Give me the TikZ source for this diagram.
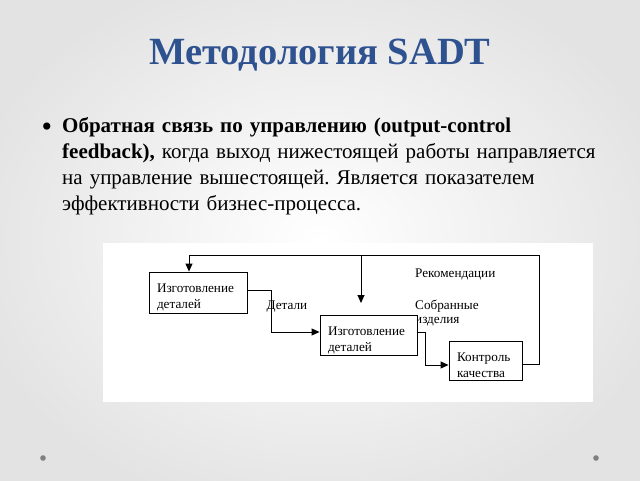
\documentclass[tikz,border=0pt]{standalone}
\usepackage{fontspec}
\setmainfont{Liberation Serif}
\usetikzlibrary{arrows.meta}
\definecolor{titleblue}{HTML}{2E5190}
\definecolor{dotgray}{HTML}{7F7F7F}
\frenchspacing
\newcommand{\topgap}{\rule{0pt}{19pt}}
\tikzset{
  boxnode/.style={draw, line width=0.9pt, fill=white, align=left, font=\fontsize{13.2}{16}\selectfont, inner xsep=8pt, inner ysep=0pt, anchor=center},
  lbl/.style={font=\fontsize{13.2}{15}\selectfont, inner sep=0pt},
  conn/.style={line width=0.9pt},
  arr/.style={conn, -{Triangle[length=8pt,width=7pt]}}
}
\begin{document}
\begin{tikzpicture}[x=1pt,y=-1pt]
\useasboundingbox (0,0) rectangle (640,480);
\shade[inner color=white, outer color=black!11] (-40,-40) rectangle (680,520);
\fill[white] (103,243) rectangle (593,402);
\fill[dotgray] (43,458) circle (2.8);
\fill[dotgray] (596,458) circle (2.8);
% title
\node[text=titleblue, font=\fontsize{38.5}{44}\selectfont\bfseries] (title) at (320,55) {Методология SADT};
% bullet text
\node[font=\fontsize{30}{30}\selectfont, inner sep=0pt] (bul) at (47,130) {•};
\node[font=\fontsize{21}{26}\selectfont, align=left, anchor=north west, inner sep=0pt, text width=560pt] (txt) at (62,117)
{\textbf{Обратная связь по управлению (output-control}\\
\textbf{feedback),} когда выход нижестоящей работы направляется\\
на управление вышестоящей. Является показателем\\
эффективности бизнес-процесса.};
% labels behind boxes
\node[lbl, anchor=west] (rec) at (415,274) {Рекомендации};
\node[lbl, anchor=west] (sob) at (415,306) {Собранные};
\node[lbl, anchor=west] (izd) at (415,322) {изделия};
\node[lbl] (det) at (287,307) {Детали};
% boxes
\node[boxnode, minimum width=98pt, minimum height=41pt, text width=82pt] (box1) at (198,292.5) {\topgap Изготовление\\деталей};
\node[boxnode, minimum width=97pt, minimum height=40pt, text width=81pt] (box2) at (368.5,335) {\topgap Изготовление\\деталей};
\node[boxnode, minimum width=73pt, minimum height=39pt, text width=57pt] (box3) at (485.5,360.5) {\topgap Контроль\\качества};
% connectors
\coordinate (c1) at (539,364);
\coordinate (fbR) at (539,255);
\coordinate (fbL) at (189,255);
\coordinate (fbM) at (361,255);
\coordinate (fbMend) at (361,303);
\draw[arr] (box3.east |- c1) -- (c1) -- (fbR) -- (fbL) -- (fbL |- box1.north);
\draw[arr] (fbM) -- (fbMend);
\coordinate (d1) at (271,290);
\coordinate (d2) at (271,332);
\draw[arr] (box1.east |- d1) -- (d1) -- (d2) -- (box2.west |- d2);
\coordinate (e1) at (425,332);
\coordinate (e2) at (425,365);
\draw[arr] (box2.east |- e1) -- (e1) -- (e2) -- (box3.west |- e2);
\end{tikzpicture}
\end{document}
